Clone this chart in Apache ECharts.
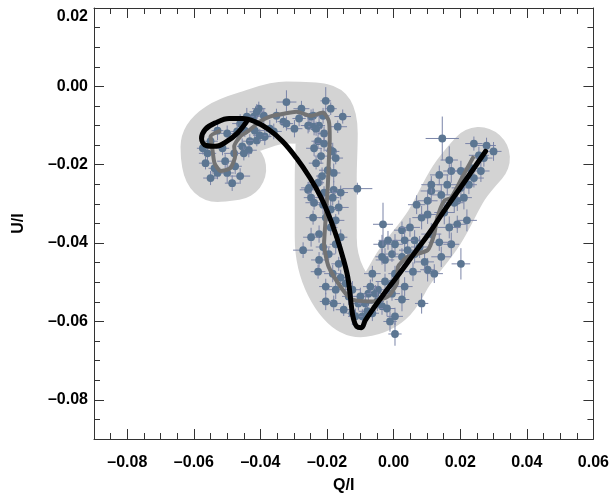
<!DOCTYPE html>
<html>
<head>
<meta charset="utf-8">
<script src="https://cdn.jsdelivr.net/npm/echarts@6/dist/echarts.min.js"></script>
<style>html,body{margin:0;padding:0;background:#fff}#c{width:612px;height:499px}</style>
</head>
<body>
<div id="c"></div>
<script>
// ---- axis ticks ----
const xMajorTicks = [-0.08, -0.06, -0.04, -0.02, 0.00, 0.02, 0.04, 0.06];
const xMinorTicks = [-0.085, -0.075, -0.07, -0.065, -0.055, -0.05, -0.045, -0.035, -0.03, -0.025, -0.015, -0.01, -0.005, 0.005, 0.01, 0.015, 0.025, 0.03, 0.035, 0.045, 0.05, 0.055];
const yMajorTicks = [-0.08, -0.06, -0.04, -0.02, 0.00, 0.02];
const yMinorTicks = [-0.085, -0.075, -0.07, -0.065, -0.055, -0.05, -0.045, -0.035, -0.03, -0.025, -0.015, -0.01, -0.005, 0.005, 0.01, 0.015];

// ---- measured points (Q/I, U/I) with errors ----
const pointQ = [
 -0.0405,-0.0390,-0.0420,-0.0441,-0.0417,-0.0447,-0.0461,-0.0470,-0.0432,-0.0411,-0.0387,-0.0455,-0.0435,-0.0479,-0.0500,-0.0529,-0.0550,-0.0559,-0.0565,-0.0538,-0.0506,-0.0500,-0.0461,-0.0550,-0.0529,-0.0476,-0.0450,
 -0.0411,-0.0322,-0.0352,-0.0331,-0.0298,-0.0284,-0.0242,-0.0224,-0.0254,-0.0212,-0.0153,-0.0372,-0.0402,-0.0360,-0.0204,-0.0248,-0.0257,-0.0168,-0.0239,
 -0.0227,-0.0209,-0.0189,-0.0233,-0.0218,-0.0198,-0.0180,-0.0227,-0.0209,-0.0180,-0.0159,-0.0109,-0.0257,-0.0165,-0.0189,-0.0248,-0.0233,-0.0183,-0.0254,-0.0183,
 -0.0212,-0.0242,-0.0204,-0.0174,-0.0224,-0.0272,-0.0212,-0.0174,-0.0224,-0.0195,-0.0183,-0.0165,-0.0204,-0.0174,-0.0144,-0.0180,-0.0135,-0.0124,-0.0106,
 -0.0064,-0.0076,-0.0035,-0.0047,-0.0005,-0.0005,0.0004,-0.0026,0.0025,-0.0005,-0.0035,-0.0032,0.0025,0.0063,0.0113,0.0084,0.0102,0.0102,0.0113,0.0069,
 0.0143,0.0161,0.0173,0.0137,0.0113,0.0167,0.0146,0.0202,0.0202,0.0220,0.0191,0.0173,0.0202,0.0143,0.0122,0.0102,0.0084,0.0004,0.0004,0.0025,
 0.0241,0.0279,0.0300,0.0256,0.0232,0.0262,0.0226,0.0191,0.0152,-0.0055,-0.0064,-0.0085,-0.0094,-0.0124,-0.0035,-0.0017,0.0004,0.0033,0.0042,0.0063,
 -0.0209,-0.0239,-0.0174,-0.0215,-0.0239,-0.0189,-0.0248,-0.0227,-0.0159,-0.0204,-0.0150,-0.0159,
 -0.0115,-0.0079,-0.0049,-0.0020,-0.0100,-0.0070,-0.0026,0.0033,-0.0011,
 0.0049,0.0078,0.0137,0.0182,0.0211,0.0241,0.0271,0.0167,0.0093,0.0058,
 -0.0322,-0.0277,-0.0189,
 -0.0514,-0.0485,-0.0573
];
const pointU = [
 -0.0057,-0.0075,-0.0077,-0.0077,-0.0113,-0.0113,-0.0095,-0.0115,-0.0140,-0.0138,-0.0128,-0.0153,-0.0163,-0.0171,-0.0120,-0.0113,-0.0140,-0.0171,-0.0196,-0.0209,-0.0191,-0.0221,-0.0229,-0.0234,-0.0221,-0.0204,-0.0171,
 -0.0065,-0.0040,-0.0075,-0.0090,-0.0108,-0.0082,-0.0075,-0.0100,-0.0100,-0.0075,-0.0077,-0.0108,-0.0125,-0.0115,-0.0037,-0.0077,-0.0100,-0.0103,-0.0103,
 -0.0140,-0.0146,-0.0163,-0.0196,-0.0178,-0.0214,-0.0221,-0.0246,-0.0271,-0.0264,-0.0271,-0.0261,-0.0264,-0.0309,-0.0314,-0.0284,-0.0108,-0.0166,-0.0259,-0.0284,
 -0.0302,-0.0335,-0.0335,-0.0342,-0.0377,-0.0418,-0.0410,-0.0403,-0.0443,-0.0428,-0.0478,-0.0453,-0.0511,-0.0519,-0.0503,-0.0554,-0.0536,-0.0579,-0.0554,
 -0.0478,-0.0529,-0.0561,-0.0519,-0.0503,-0.0529,-0.0478,-0.0443,-0.0435,-0.0428,-0.0403,-0.0352,-0.0367,-0.0393,-0.0377,-0.0335,-0.0327,-0.0292,-0.0267,-0.0302,
 -0.0277,-0.0251,-0.0216,-0.0226,-0.0251,-0.0188,-0.0133,-0.0216,-0.0259,-0.0342,-0.0352,-0.0403,-0.0453,-0.0435,-0.0478,-0.0468,-0.0554,-0.0587,-0.0632,-0.0544,
 -0.0146,-0.0151,-0.0166,-0.0176,-0.0209,-0.0216,-0.0251,-0.0292,-0.0322,-0.0529,-0.0579,-0.0554,-0.0587,-0.0519,-0.0435,-0.0393,-0.0403,-0.0393,-0.0418,-0.0428,
 -0.0120,-0.0158,-0.0183,-0.0229,-0.0297,-0.0360,-0.0385,-0.0473,-0.0488,-0.0549,-0.0570,-0.0385,
 -0.0587,-0.0574,-0.0549,-0.0567,-0.0536,-0.0511,-0.0498,-0.0511,-0.0600,
 -0.0360,-0.0410,-0.0398,-0.0297,-0.0284,-0.0234,-0.0183,-0.0360,-0.0448,-0.0473,
 -0.0095,-0.0057,-0.0057,
 -0.0158,-0.0247,-0.0158
];
const errQ = [
 0.0020,0.0025,0.0018,0.0022,0.0030,0.0020,0.0024,0.0018,0.0022,0.0028,0.0020,0.0016,0.0024,0.0030,0.0020,0.0018,0.0022,0.0026,0.0020,0.0018,0.0024,0.0020,0.0030,0.0022,0.0018,0.0020,0.0024,
 0.0022,0.0030,0.0020,0.0018,0.0024,0.0020,0.0026,0.0018,0.0022,0.0020,0.0025,0.0018,0.0020,0.0024,0.0016,0.0020,0.0022,0.0028,0.0018,
 0.0020,0.0024,0.0018,0.0022,0.0020,0.0026,0.0020,0.0018,0.0024,0.0020,0.0022,0.0045,0.0025,0.0030,0.0020,0.0022,0.0018,0.0020,0.0024,0.0020,
 0.0018,0.0022,0.0020,0.0026,0.0020,0.0030,0.0022,0.0018,0.0024,0.0020,0.0026,0.0022,0.0020,0.0024,0.0018,0.0022,0.0020,0.0018,0.0024,
 0.0025,0.0020,0.0022,0.0030,0.0018,0.0024,0.0020,0.0028,0.0022,0.0020,0.0026,0.0030,0.0024,0.0035,0.0030,0.0028,0.0025,0.0030,0.0032,0.0026,
 0.0028,0.0030,0.0024,0.0028,0.0030,0.0026,0.0050,0.0022,0.0028,0.0030,0.0026,0.0024,0.0028,0.0030,0.0026,0.0022,0.0020,0.0024,0.0020,0.0022,
 0.0026,0.0028,0.0024,0.0030,0.0022,0.0026,0.0024,0.0028,0.0030,0.0026,0.0020,0.0022,0.0018,0.0024,0.0020,0.0028,0.0024,0.0030,0.0026,0.0022,
 0.0020,0.0024,0.0022,0.0018,0.0026,0.0020,0.0024,0.0022,0.0020,0.0018,0.0024,0.0020,
 0.0022,0.0026,0.0020,0.0024,0.0018,0.0022,0.0028,0.0024,0.0020,
 0.0030,0.0026,0.0032,0.0028,0.0024,0.0030,0.0026,0.0034,0.0028,0.0024,
 0.0020,0.0024,0.0018,
 0.0020,0.0022,0.0018
];
const errU = [
 0.0018,0.0020,0.0015,0.0022,0.0018,0.0016,0.0024,0.0020,0.0018,0.0015,0.0022,0.0020,0.0018,0.0016,0.0020,0.0024,0.0018,0.0020,0.0016,0.0022,0.0018,0.0026,0.0020,0.0018,0.0016,0.0020,0.0018,
 0.0020,0.0030,0.0018,0.0016,0.0022,0.0020,0.0018,0.0024,0.0016,0.0020,0.0018,0.0022,0.0016,0.0020,0.0035,0.0018,0.0020,0.0016,0.0022,
 0.0018,0.0020,0.0022,0.0016,0.0020,0.0018,0.0024,0.0020,0.0016,0.0022,0.0018,0.0015,0.0020,0.0018,0.0024,0.0020,0.0018,0.0022,0.0016,0.0020,
 0.0024,0.0018,0.0020,0.0016,0.0022,0.0020,0.0018,0.0024,0.0020,0.0016,0.0022,0.0018,0.0020,0.0024,0.0018,0.0020,0.0022,0.0030,0.0018,
 0.0020,0.0018,0.0022,0.0020,0.0024,0.0018,0.0020,0.0030,0.0022,0.0020,0.0024,0.0055,0.0022,0.0026,0.0028,0.0030,0.0024,0.0026,0.0030,0.0024,
 0.0028,0.0026,0.0030,0.0024,0.0022,0.0035,0.0056,0.0026,0.0024,0.0028,0.0022,0.0030,0.0040,0.0026,0.0024,0.0030,0.0026,0.0022,0.0030,0.0030,
 0.0018,0.0020,0.0024,0.0022,0.0026,0.0028,0.0024,0.0026,0.0030,0.0022,0.0020,0.0024,0.0018,0.0022,0.0020,0.0024,0.0026,0.0022,0.0020,0.0024,
 0.0018,0.0020,0.0016,0.0022,0.0018,0.0020,0.0024,0.0018,0.0020,0.0022,0.0016,0.0020,
 0.0020,0.0018,0.0024,0.0020,0.0022,0.0018,0.0020,0.0024,0.0026,
 0.0024,0.0028,0.0022,0.0026,0.0030,0.0024,0.0022,0.0028,0.0026,0.0024,
 0.0018,0.0020,0.0016,
 0.0018,0.0020,0.0016
];

// ---- running mean track ----
const meanQ = [-0.0520,-0.0550,-0.0544,-0.0538,-0.0520,-0.0491,-0.0476,-0.0479,-0.0461,-0.0435,-0.0402,-0.0372,-0.0331,-0.0292,-0.0248,-0.0212,-0.0195,-0.0192,-0.0195,-0.0198,-0.0204,-0.0209,-0.0195,-0.0153,-0.0124,-0.0064,-0.0017,0.0010,0.0013,0.0042,0.0102,0.0122,0.0131,0.0152,0.0173,0.0205,0.0241];
const meanU = [-0.0113,-0.0128,-0.0163,-0.0196,-0.0216,-0.0209,-0.0178,-0.0153,-0.0128,-0.0113,-0.0090,-0.0077,-0.0070,-0.0065,-0.0075,-0.0067,-0.0088,-0.0133,-0.0196,-0.0259,-0.0335,-0.0403,-0.0461,-0.0519,-0.0544,-0.0549,-0.0536,-0.0503,-0.0461,-0.0435,-0.0418,-0.0377,-0.0335,-0.0292,-0.0284,-0.0234,-0.0178];

// ---- spread envelope track ----
const bandQ = [-0.0476,-0.0529,-0.0547,-0.0512,-0.0425,-0.0322,-0.0218,-0.0201,-0.0204,-0.0204,-0.0174,-0.0100,-0.0026,0.0033,0.0122,0.0196,0.0256];
const bandU = [-0.0211,-0.0216,-0.0155,-0.0117,-0.0088,-0.0067,-0.0072,-0.0120,-0.0234,-0.0385,-0.0498,-0.0561,-0.0536,-0.0461,-0.0360,-0.0246,-0.0183];

// ---- model curve ----
const modelQ = [0.0276,0.0241,0.0196,0.0152,0.0108,0.0063,0.0019,-0.0026,-0.0061,-0.0085,-0.0097,-0.0111,-0.0121,-0.0127,-0.0131,-0.0138,-0.0153,-0.0171,-0.0192,-0.0218,-0.0251,-0.0292,-0.0334,-0.0375,-0.0417,-0.0455,-0.0494,-0.0535,-0.0566,-0.0577,-0.0563,-0.0535,-0.0500,-0.0470,-0.0450,-0.0438];
const modelU = [-0.0166,-0.0209,-0.0264,-0.0317,-0.0373,-0.0425,-0.0476,-0.0526,-0.0567,-0.0597,-0.0616,-0.0613,-0.0592,-0.0560,-0.0530,-0.0486,-0.0435,-0.0385,-0.0335,-0.0284,-0.0234,-0.0183,-0.0140,-0.0110,-0.0090,-0.0082,-0.0082,-0.0093,-0.0110,-0.0133,-0.0151,-0.0153,-0.0140,-0.0120,-0.0100,-0.0085];

const FONT = 'Liberation Sans';
const LBL = { color: '#000', fontFamily: FONT, fontWeight: 'bold', fontSize: 16 };
const fmt = v => Math.abs(v) < 1e-9 ? '0.00' : (v < 0 ? '\u2013' : '') + Math.abs(v).toFixed(2);
const zip = (a, b) => a.map((v, i) => [v, b[i]]);

function mkAxis(pos, ticks, len, showLine, labels, extra) {
  const isX = pos === 'bottom' || pos === 'top';
  return Object.assign({
    type: 'value', gridIndex: 0, position: pos,
    min: -0.09, max: isX ? 0.06 : 0.02,
    axisLine: { show: showLine, onZero: false, lineStyle: { color: '#333', width: 1 } },
    axisTick: { show: true, inside: true, length: len, customValues: ticks, lineStyle: { color: '#333', width: 1 } },
    axisLabel: labels ? Object.assign({
      show: true, customValues: ticks,
      formatter: v => (!isX && Math.abs(v - 0.02) < 1e-9) ? '{t|' + fmt(v) + '}' : fmt(v),
      rich: { t: Object.assign({ padding: [18, 0, 0, 0] }, LBL) },
      margin: isX ? 16 : 6
    }, LBL) : { show: false },
    splitLine: { show: false }
  }, extra || {});
}

const chart = echarts.init(document.getElementById('c'), null, { renderer: 'canvas' });
chart.setOption({
  animation: false,
  backgroundColor: '#fff',
  grid: { left: 94, right: 12, top: 8, bottom: 56 },
  xAxis: [
    mkAxis('bottom', xMajorTicks, 10, true, true, { name: 'Q/I', nameLocation: 'middle', nameGap: 39, nameTextStyle: LBL }),
    mkAxis('bottom', xMinorTicks, 6, false, false),
    mkAxis('top', xMajorTicks, 10, true, false),
    mkAxis('top', xMinorTicks, 6, false, false)
  ],
  yAxis: [
    mkAxis('left', yMajorTicks, 10, true, true, { name: 'U/I', nameLocation: 'middle', nameGap: 67, nameRotate: 90, nameTextStyle: LBL }),
    mkAxis('left', yMinorTicks, 6, false, false),
    mkAxis('right', yMajorTicks, 10, true, false),
    mkAxis('right', yMinorTicks, 6, false, false)
  ],
  series: [
    {
      type: 'line', xAxisIndex: 0, yAxisIndex: 0, z: 1,
      data: zip(bandQ, bandU), showSymbol: false, smooth: 0.35, silent: true,
      lineStyle: { color: '#d3d3d3', width: 62, cap: 'round', join: 'round' }
    },
    {
      type: 'custom', xAxisIndex: 0, yAxisIndex: 0, z: 2,
      data: pointQ.map((q, i) => [q, pointU[i], errQ[i] || 0.002, errU[i] || 0.002]),
      encode: { x: 0, y: 1 },
      renderItem: function (params, api) {
        const x = api.value(0), y = api.value(1), ex = api.value(2), ey = api.value(3);
        const c = api.coord([x, y]);
        const l = api.coord([x - ex, y]), r = api.coord([x + ex, y]);
        const t = api.coord([x, y + ey]), b = api.coord([x, y - ey]);
        return {
          type: 'group',
          children: [
            { type: 'line', shape: { x1: l[0], y1: l[1], x2: r[0], y2: r[1] }, style: { stroke: '#7a84a8', lineWidth: 1 } },
            { type: 'line', shape: { x1: t[0], y1: t[1], x2: b[0], y2: b[1] }, style: { stroke: '#7a84a8', lineWidth: 1 } },
            { type: 'circle', shape: { cx: c[0], cy: c[1], r: 3.9 }, style: { fill: '#5c7692' } }
          ]
        };
      }
    },
    {
      type: 'line', xAxisIndex: 0, yAxisIndex: 0, z: 3,
      data: zip(meanQ, meanU), showSymbol: false, smooth: 0.2, silent: true,
      lineStyle: { color: '#737373', width: 4, join: 'round' }
    },
    {
      type: 'line', xAxisIndex: 0, yAxisIndex: 0, z: 4,
      data: zip(modelQ, modelU), showSymbol: false, smooth: 0.4, silent: true,
      lineStyle: { color: '#000', width: 5, join: 'round', cap: 'round' }
    }
  ]
});
</script>
</body>
</html>
